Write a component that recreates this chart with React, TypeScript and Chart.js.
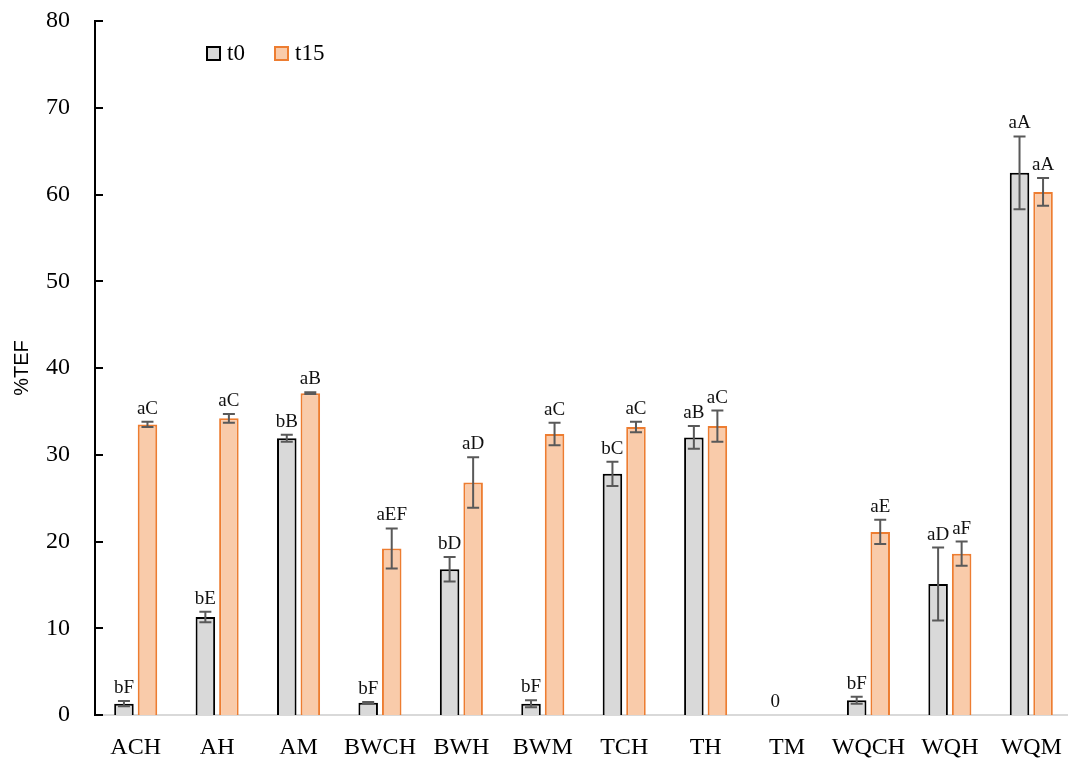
import React, { useEffect, useRef } from "react";
import { Chart, registerables } from "chart.js";

Chart.register(...registerables);

const categories = ["ACH", "AH", "AM", "BWCH", "BWH", "BWM", "TCH", "TH", "TM", "WQCH", "WQH", "WQM"];
const t0Values = [1.3, 11.3, 31.9, 1.4, 16.8, 1.3, 27.8, 32.0, 0, 1.7, 15.1, 62.5];
const t0Errors = [0.3, 0.6, 0.4, 0.1, 1.4, 0.4, 1.4, 1.3, 0, 0.4, 4.2, 4.2];
const t15Values = [33.5, 34.2, 37.1, 19.2, 26.8, 32.4, 33.2, 33.3, 0, 21.1, 18.6, 60.3];
const t15Errors = [0.3, 0.5, 0.1, 2.3, 2.9, 1.3, 0.6, 1.8, 0, 1.4, 1.4, 1.6];
const t0Letters = ["bF", "bE", "bB", "bF", "bD", "bF", "bC", "aB", "0", "bF", "aD", "aA"];
const t15Letters = ["aC", "aC", "aB", "aEF", "aD", "aC", "aC", "aC", "", "aE", "aF", "aA"];
const seriesNames = ["t0", "t15"];
const yMin = 0;
const yMax = 80;
const yStep = 10;

const errorsBySeries = [t0Errors, t15Errors];
const lettersBySeries = [t0Letters, t15Letters];

const SERIF = "'Liberation Serif', serif";

const GRAY_FILL = "#D9D9D9";
const GRAY_BORDER = "#000000";
const ORANGE_FILL = "#F9CBAA";
const ORANGE_BORDER = "#ED7D31";

const annotationPlugin = {
  id: "annotations",
  afterDatasetsDraw(chart: any) {
    const ctx = chart.ctx;
    const yScale = chart.scales.y;
    const area = chart.chartArea;

    // inner tick marks on the y axis
    ctx.save();
    ctx.strokeStyle = "#000";
    ctx.lineWidth = 2;
    for (let v = yMin; v <= yMax; v += yStep) {
      const py = Math.round(yScale.getPixelForValue(v));
      ctx.beginPath();
      ctx.moveTo(area.left, py);
      ctx.lineTo(area.left + 8, py);
      ctx.stroke();
    }
    ctx.restore();

    chart.data.datasets.forEach((ds: any, di: number) => {
      const meta = chart.getDatasetMeta(di);
      const errs = errorsBySeries[di];
      const letters = lettersBySeries[di];
      meta.data.forEach((el: any, i: number) => {
        const v = ds.data[i];
        const e = errs[i];
        const x = el.x;
        let topY = yScale.getPixelForValue(v);
        if (e > 0) {
          const yTop = yScale.getPixelForValue(v + e);
          const yBot = yScale.getPixelForValue(v - e);
          ctx.save();
          ctx.strokeStyle = "#595959";
          ctx.lineWidth = 2;
          ctx.beginPath();
          ctx.moveTo(x, yTop);
          ctx.lineTo(x, yBot);
          ctx.moveTo(x - 6, yTop);
          ctx.lineTo(x + 6, yTop);
          ctx.moveTo(x - 6, yBot);
          ctx.lineTo(x + 6, yBot);
          ctx.stroke();
          ctx.restore();
          topY = yTop;
        }
        const label = letters[i];
        if (label) {
          ctx.save();
          ctx.fillStyle = "#111";
          ctx.font = `19px ${SERIF}`;
          ctx.textAlign = "center";
          ctx.textBaseline = "alphabetic";
          ctx.fillText(label, x, topY - 8);
          ctx.restore();
        }
      });
    });

    // legend inside plot
    ctx.save();
    const lx = area.left + 111;
    const ly = area.top + 25;
    const items = [
      { name: seriesNames[0], fill: GRAY_FILL, border: GRAY_BORDER, dx: 0 },
      { name: seriesNames[1], fill: ORANGE_FILL, border: ORANGE_BORDER, dx: 68 },
    ];
    items.forEach((it) => {
      ctx.fillStyle = it.fill;
      ctx.fillRect(lx + it.dx, ly, 15, 15);
      ctx.strokeStyle = it.border;
      ctx.lineWidth = 2;
      ctx.strokeRect(lx + it.dx + 1, ly + 1, 13, 13);
      ctx.fillStyle = "#000";
      ctx.font = `23px ${SERIF}`;
      ctx.textAlign = "left";
      ctx.textBaseline = "middle";
      ctx.fillText(it.name, lx + it.dx + 21, ly + 8);
    });
    ctx.restore();
  },
};

export default function App() {
  const canvasRef = useRef<HTMLCanvasElement | null>(null);

  useEffect(() => {
    document.body.style.margin = "0";
    const canvas = canvasRef.current;
    if (!canvas) return;
    const chart = new Chart(canvas, {
      type: "bar",
      data: {
        labels: categories,
        datasets: [
          {
            label: seriesNames[0],
            data: t0Values,
            backgroundColor: GRAY_FILL,
            borderColor: GRAY_BORDER,
            borderWidth: t0Values.map((v) => (v > 0 ? 2 : 0)),
            barPercentage: 0.83,
            categoryPercentage: 0.578,
          },
          {
            label: seriesNames[1],
            data: t15Values,
            backgroundColor: ORANGE_FILL,
            borderColor: ORANGE_BORDER,
            borderWidth: t15Values.map((v) => (v > 0 ? 2 : 0)),
            barPercentage: 0.83,
            categoryPercentage: 0.578,
          },
        ],
      },
      options: {
        responsive: false,
        animation: false,
        layout: { padding: { left: 0, top: 21, right: 0, bottom: 0 } },
        plugins: {
          legend: { display: false },
          tooltip: { enabled: false },
        },
        scales: {
          x: {
            grid: { display: false, drawTicks: false },
            border: { display: true, color: "#D9D9D9", width: 2 },
            ticks: {
              color: "#000",
              font: { family: SERIF, size: 24 },
              padding: 18,
              maxRotation: 0,
              autoSkip: false,
            },
            afterFit: (scale: any) => {
              scale.height = 48;
              scale.paddingLeft = 0;
              scale.paddingRight = 0;
            },
          },
          y: {
            min: yMin,
            max: yMax,
            grid: { display: false, drawTicks: false },
            border: { display: true, color: "#000", width: 2 },
            ticks: {
              stepSize: yStep,
              color: "#000",
              font: { family: SERIF, size: 24 },
              padding: 25,
            },
            title: {
              display: true,
              text: "%TEF",
              color: "#000",
              font: { family: "'Liberation Sans', sans-serif", size: 20 },
              padding: { top: 10, bottom: 0 },
            },
            afterFit: (scale: any) => {
              scale.width = 95;
              scale.paddingTop = 0;
              scale.paddingBottom = 0;
            },
          },
        },
      },
      plugins: [annotationPlugin],
    });
    return () => chart.destroy();
  }, []);

  return (
    <div style={{ width: 1068, height: 763, overflow: "hidden", background: "#fff" }}>
      <canvas ref={canvasRef} width={1072} height={763} style={{ display: "block" }} />
    </div>
  );
}
